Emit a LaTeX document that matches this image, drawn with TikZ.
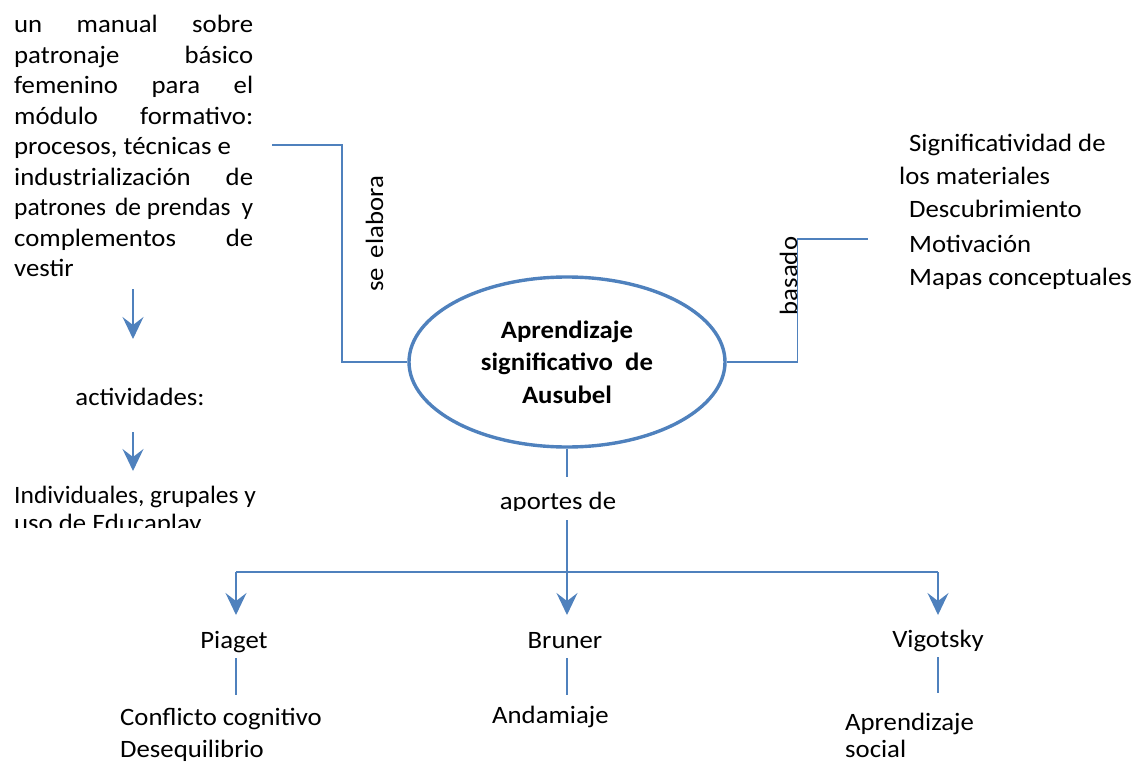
\documentclass[tikz,border=0pt]{standalone}
\usepackage{fontspec}
\setmainfont{Carlito}[FakeStretch=1.07]
\usetikzlibrary{shapes.geometric,arrows.meta}
\definecolor{obl}{HTML}{4F81BD}
\begin{document}
\begin{tikzpicture}[x=1pt,y=-1pt,
  txt/.style={inner sep=0pt,font=\fontsize{25}{30.5}\selectfont,text=black},
  conn/.style={draw=obl,line width=1.3pt},
  arr/.style={draw=obl,line width=1.3pt,-{Stealth[length=22pt,width=21pt,inset=8pt,fill=obl]}},
  hub/.style={ellipse,draw=obl,line width=3.4pt,minimum width=316pt,minimum height=170pt,inner sep=0pt,
    align=center,font=\fontsize{25}{32.5}\selectfont\bfseries}]
\useasboundingbox (0,0) rectangle (1135,762);
\clip (0,0) rectangle (1135,762);

% left text block
\node[txt,anchor=base west] (manual) at (14,33) {\parbox[t]{239pt}{\baselineskip=30.5pt
\hbox to 239pt{un\hfill manual\hfill sobre}
\hbox to 239pt{patronaje\hfill básico}
\hbox to 239pt{femenino\hfill para\hfill el}
\hbox to 239pt{módulo\hfill formativo:}
\hbox to 239pt{procesos, técnicas e\hfill}
\hbox to 239pt{industrialización\hfill de}
\hbox to 239pt{\addfontfeature{FakeStretch=1.02}patrones\hspace{9pt}de prendas\hfill y}
\hbox to 239pt{complementos\hfill de}
\hbox to 239pt{vestir\hfill}}};

% central ellipse
\node[hub] (ell) at (567,362) {Aprendizaje\\significativo\ \ de\\Ausubel};

% left connector
\coordinate (L1) at (272,145);
\draw[conn] (L1) -- ++(70,0) |- (ell.west);
\node[txt,rotate=90,anchor=base] (elab) at (383,234) {se\hspace{10pt}elabora};

% right connector
\coordinate (R1) at (868,239);
\draw[conn] (ell.east) -- ++(71,0) |- (R1);
\node[txt,rotate=90,anchor=base] (basado) at (797,276) {basado};

% right text block
\node[txt,anchor=base west] (sig) at (909,152) {Significatividad de};
\node[txt,anchor=base west] (mat) at (899,185) {los materiales};
\node[txt,anchor=base west] (desc) at (909,218) {Descubrimiento};
\node[txt,anchor=base west] (motiv) at (909,252) {Motivación};
\node[txt,anchor=base west] (mapas) at (909,285) {Mapas conceptuales};

% left chain
\coordinate (a1s) at (133,289);
\coordinate (a1e) at (133,339);
\draw[arr] (a1s) -- (a1e);
\node[txt,anchor=base] (activ) at (140,405) {actividades:};
\coordinate (a2s) at (133,432);
\coordinate (a2e) at (133,471);
\draw[arr] (a2s) -- (a2e);
\node[txt,anchor=base west] (indiv) at (14,503) {\addfontfeature{FakeStretch=1.02}Individuales, grupales y};
\begin{scope}
\clip (0,0) rectangle (1135,527);
\node[txt,anchor=base west] (uso) at (14,531) {uso de Educaplay};
\end{scope}

% aportes de
\coordinate (ap1) at (567,477);
\draw[conn] (ell.south) -- (ap1);
\begin{scope}
\clip (0,0) rectangle (1135,510);
\node[txt,anchor=base] (aportes) at (558,509) {aportes de};
\end{scope}
\coordinate (ap2) at (567,520);
\coordinate (bar) at (567,572);
\draw[conn] (ap2) -- (bar);
\coordinate (barL) at (236,572);
\coordinate (barR) at (938,572);
\draw[conn] (barL) -- (barR);

% three branches
\coordinate (tP) at (236,615);
\coordinate (tB) at (567,615);
\coordinate (tV) at (938,615);
\draw[arr] (barL) -- (tP);
\draw[arr] (bar) -- (tB);
\draw[arr] (barR) -- (tV);
\node[txt,anchor=base] (piaget) at (234,648) {Piaget};
\node[txt,anchor=base] (bruner) at (565,648) {Bruner};
\begin{scope}
\clip (0,0) rectangle (1135,651);
\node[txt,anchor=base] (vig) at (938,647) {Vigotsky};
\end{scope}

\coordinate (p1) at (236,658);
\coordinate (p2) at (236,695);
\draw[conn] (p1) -- (p2);
\coordinate (b1) at (567,658);
\coordinate (b2) at (567,695);
\draw[conn] (b1) -- (b2);
\coordinate (v1) at (938,657);
\coordinate (v2) at (938,693);
\draw[conn] (v1) -- (v2);

\node[txt,anchor=base west] (confl) at (120,725) {Conflicto cognitivo};
\node[txt,anchor=base west] (deseq) at (120,757) {Desequilibrio};
\node[txt,anchor=base west] (andam) at (492,723) {Andamiaje};
\node[txt,anchor=base west] (aprsoc) at (845,730) {Aprendizaje};
\node[txt,anchor=base west] (social) at (845,757) {social};
\end{tikzpicture}
\end{document}
